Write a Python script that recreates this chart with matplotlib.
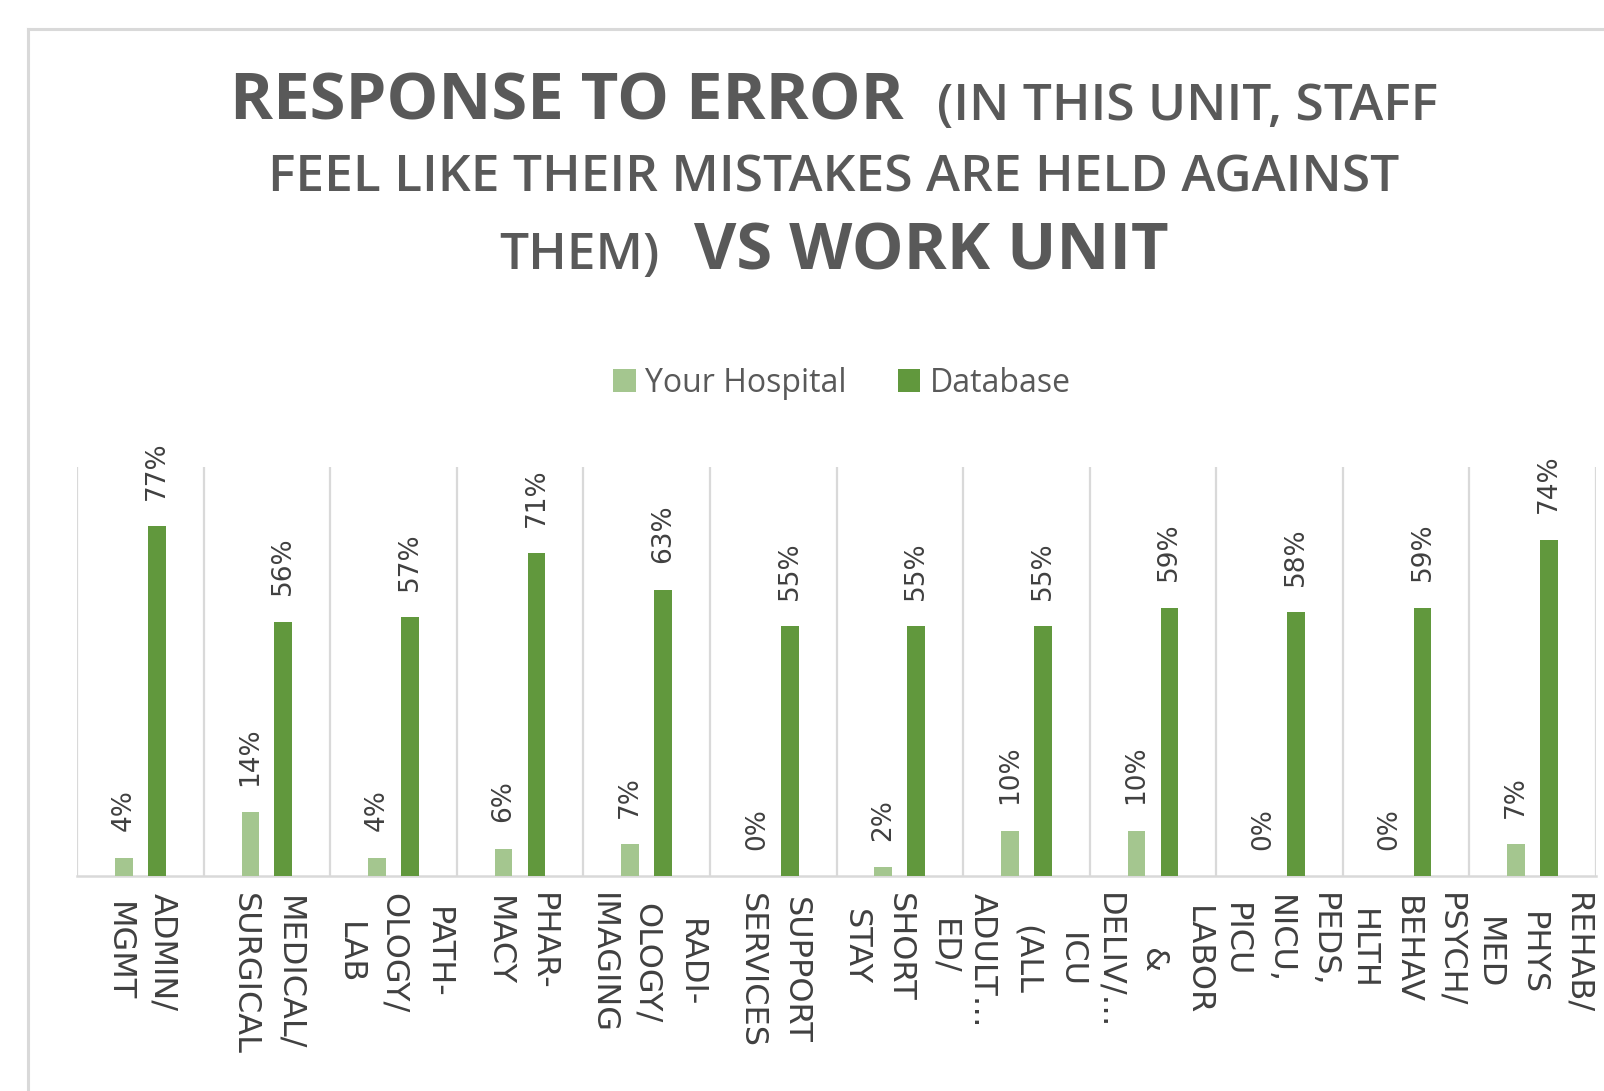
import matplotlib
matplotlib.use("Agg")
import matplotlib.pyplot as plt
from matplotlib.lines import Line2D
import numpy as np

# data (percent)
categories = [
    "ADMIN/\nMGMT", "MEDICAL/\nSURGICAL", "PATH-\nOLOGY/\nLAB", "PHAR-\nMACY",
    "RADI-\nOLOGY/\nIMAGING", "SUPPORT\nSERVICES", "ED/\nSHORT\nSTAY",
    "ICU\n(ALL\nADULT…", "LABOR\n&\nDELIV/…", "PEDS,\nNICU,\nPICU",
    "PSYCH/\nBEHAV\nHLTH", "REHAB/\nPHYS\nMED",
]
your_hospital = [4, 14, 4, 6, 7, 0, 2, 10, 10, 0, 0, 7]
database = [77, 56, 57, 71, 63, 55, 55, 55, 59, 58, 59, 74]
series_names = ["Your Hospital", "Database"]

LIGHT = "#A4C68F"
DARK = "#61983D"
GRID = "#D9D9D9"
TITLE_GRAY = "#595959"
TEXT = "#404040"

W, H = 1604, 1091
fig = plt.figure(figsize=(W / 100, H / 100), dpi=100)
ax = fig.add_axes([77 / W, 1 - 876 / H, (1596 - 77) / W, (876 - 467) / H])

x = np.arange(len(categories))
bw = 0.14
off = 0.13
b1 = ax.bar(x - off, your_hospital, bw, color=LIGHT, label=series_names[0], zorder=3)
b2 = ax.bar(x + off, database, bw, color=DARK, label=series_names[1], zorder=3)

# data labels, rotated, above each bar
for bars, vals in ((b1, your_hospital), (b2, database)):
    for rect, v in zip(bars, vals):
        ax.annotate(f"{v}%", (rect.get_x() + rect.get_width() / 2, v),
                    xytext=(0, 19), textcoords="offset points",
                    rotation=90, ha="center", va="bottom",
                    fontsize=19, family="DejaVu Sans", color=TEXT)

ax.set_xlim(-0.5, len(categories) - 0.5)
ax.set_ylim(0, 90)
ax.vlines(np.arange(len(categories) + 1) - 0.5, 0, 90, color=GRID, lw=1.6, zorder=1)
for s in ("top", "right", "left"):
    ax.spines[s].set_visible(False)
ax.spines["bottom"].set_color(GRID)
ax.spines["bottom"].set_linewidth(1.8)
ax.set_yticks([])
ax.set_xticks(x, [""] * len(categories))
ax.tick_params(axis="x", length=0)

# category labels, rotated, lines centred on each other
for xi, cat in zip(x, categories):
    ax.annotate(cat, (xi, 0), xycoords=("data", "axes fraction"),
                xytext=(0, -12), textcoords="offset points",
                rotation=-90, ha="center", va="top", multialignment="center",
                fontsize=23, family="DejaVu Sans", color=TEXT, linespacing=1.55,
                annotation_clip=False)

# legend
fig.legend(handles=[b1, b2], loc="center", bbox_to_anchor=(842 / W, 1 - 383 / H),
           ncol=2, frameon=False, prop={"family": "Open Sans", "size": 23},
           labelcolor=TITLE_GRAY, handlelength=0.7, handleheight=0.7,
           handletextpad=0.3, columnspacing=1.6)

# outer chart border (cropped on the right and bottom)
fig.add_artist(Line2D([28 / W, 28 / W], [0, 1 - 29 / H], color=GRID, lw=2.2,
                      transform=fig.transFigure))
fig.add_artist(Line2D([28 / W, 1], [1 - 29 / H, 1 - 29 / H], color=GRID, lw=2.2,
                      transform=fig.transFigure))

# title, mixed sizes, centred line by line
big = dict(family="Open Sans", fontsize=47, fontweight="bold", color=TITLE_GRAY)
small = dict(family="Open Sans", fontsize=37, fontweight="semibold", color=TITLE_GRAY)
title_lines = [
    ([("RESPONSE TO ERROR", big), ("(IN THIS UNIT, STAFF", small)], 120),
    ([("FEEL LIKE THEIR MISTAKES ARE HELD AGAINST", small)], 192),
    ([("THEM)", small), ("VS WORK UNIT", big)], 269),
]
renderer = fig.canvas.get_renderer()
cx = 834
gap = 34
for parts, base in title_lines:
    texts = [fig.text(0, 1 - base / H, s, va="baseline", ha="left", **kw) for s, kw in parts]
    widths = [t.get_window_extent(renderer).width for t in texts]
    total = sum(widths) + gap * (len(texts) - 1)
    left = cx - total / 2
    for t, w in zip(texts, widths):
        t.set_x(left / W)
        left += w + gap

fig.savefig("out.png", dpi=100)
